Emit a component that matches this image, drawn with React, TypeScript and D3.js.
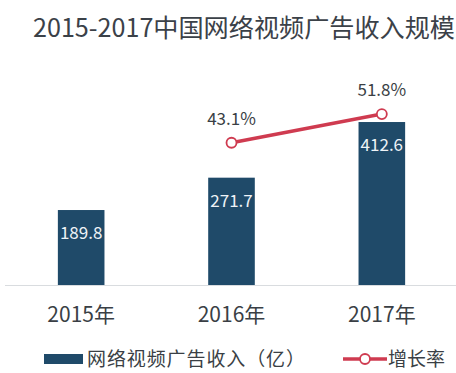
import React, { useEffect, useRef } from 'react';
import * as d3 from 'd3';

// chart data
const years = ['2015年', '2016年', '2017年'];
const revenue = [189.8, 271.7, 412.6];
const growthYears = ['2016年', '2017年'];
const growth = [43.1, 51.8];

const title = '2015-2017中国网络视频广告收入规模';
const barLegend = '网络视频广告收入（亿）';
const lineLegend = '增长率';

const font = '"Noto Sans CJK SC", "Noto Sans", sans-serif';
const barColor = '#1f4a69';
const lineColor = '#cf3b50';
const textColor = '#3a3f45';

const W = 456;
const H = 373;

export default function App() {
  const ref = useRef<SVGSVGElement>(null);

  useEffect(() => {
    const svg = d3.select(ref.current);
    svg.selectAll('*').remove();

    const baseline = 285;

    const x = d3.scaleBand<string>()
      .domain(years)
      .range([6, 457])
      .paddingInner(0.69)
      .paddingOuter(0.345);

    const y = d3.scaleLinear().domain([0, 500]).range([baseline, baseline - 197.5]);
    const yRate = d3.scaleLinear().domain([0, 60]).range([baseline, baseline - 198]);

    // title
    svg.append('text')
      .attr('x', 33)
      .attr('y', 37)
      .attr('font-size', 25)
      .attr('textLength', 422)
      .attr('lengthAdjust', 'spacingAndGlyphs')
      .attr('fill', '#3b4148')
      .text(title);

    // axis line
    svg.append('line')
      .attr('x1', 5).attr('x2', W)
      .attr('y1', baseline + 0.5).attr('y2', baseline + 0.5)
      .attr('stroke', '#d9dcdf')
      .attr('stroke-width', 1);

    // bars
    const bars = svg.append('g');
    bars.selectAll('rect')
      .data(revenue)
      .join('rect')
      .attr('x', (d, i) => x(years[i])!)
      .attr('width', x.bandwidth())
      .attr('y', d => y(d))
      .attr('height', d => baseline - y(d))
      .attr('fill', barColor);

    bars.selectAll('text')
      .data(revenue)
      .join('text')
      .attr('x', (d, i) => x(years[i])! + x.bandwidth() / 2)
      .attr('y', d => y(d) + 29)
      .attr('text-anchor', 'middle')
      .attr('font-size', 17)
      .attr('fill', '#eef3f7')
      .text(d => d.toFixed(1));

    // category labels
    svg.append('g')
      .selectAll('text')
      .data(years)
      .join('text')
      .attr('x', d => x(d)! + x.bandwidth() / 2)
      .attr('y', 322)
      .attr('text-anchor', 'middle')
      .attr('font-size', 21)
      .attr('fill', textColor)
      .text(d => d);

    // growth line
    const pts: [number, number][] = growth.map((v, i) => [
      x(growthYears[i])! + x.bandwidth() / 2,
      yRate(v),
    ]);

    svg.append('path')
      .attr('d', d3.line()(pts))
      .attr('fill', 'none')
      .attr('stroke', lineColor)
      .attr('stroke-width', 3.5);

    svg.append('g')
      .selectAll('circle')
      .data(pts)
      .join('circle')
      .attr('cx', d => d[0])
      .attr('cy', d => d[1])
      .attr('r', 5)
      .attr('fill', '#fff')
      .attr('stroke', lineColor)
      .attr('stroke-width', 1.8);

    svg.append('g')
      .selectAll('text')
      .data(growth)
      .join('text')
      .attr('x', (d, i) => pts[i][0])
      .attr('y', (d, i) => pts[i][1] - 18)
      .attr('text-anchor', 'middle')
      .attr('font-size', 17)
      .attr('fill', textColor)
      .text(d => d.toFixed(1) + '%');

    // legend
    const legend = svg.append('g');
    legend.append('rect')
      .attr('x', 44).attr('y', 354)
      .attr('width', 39).attr('height', 10)
      .attr('fill', barColor);
    legend.append('text')
      .attr('x', 87).attr('y', 366)
      .attr('font-size', 19)
      .attr('textLength', 218)
      .attr('lengthAdjust', 'spacing')
      .attr('fill', textColor)
      .text(barLegend);

    legend.append('line')
      .attr('x1', 343).attr('x2', 387)
      .attr('y1', 359).attr('y2', 359)
      .attr('stroke', lineColor)
      .attr('stroke-width', 3.5);
    legend.append('circle')
      .attr('cx', 365).attr('cy', 359).attr('r', 5)
      .attr('fill', '#fff')
      .attr('stroke', lineColor)
      .attr('stroke-width', 1.8);
    legend.append('text')
      .attr('x', 388).attr('y', 366)
      .attr('font-size', 19)
      .attr('fill', textColor)
      .text(lineLegend);
  }, []);

  return (
    <div style={{ position: 'fixed', left: 0, top: 0, width: W, height: H, background: '#fff' }}>
      <svg ref={ref} width={W} height={H} style={{ fontFamily: font, display: 'block' }} />
    </div>
  );
}
